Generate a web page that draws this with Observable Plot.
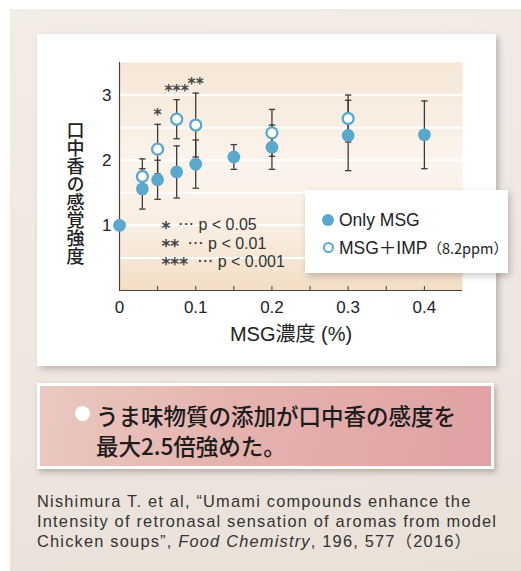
<!DOCTYPE html>
<html lang="ja">
<head>
<meta charset="utf-8">
<script src="https://cdn.jsdelivr.net/npm/d3@7"></script>
<script src="https://cdn.jsdelivr.net/npm/@observablehq/plot@0.6"></script>
<style>
  html, body { margin: 0; padding: 0; background: #ffffff; }
  body { width: 521px; height: 571px; position: relative; overflow: hidden;
         font-family: "Liberation Sans", "Noto Sans CJK JP", sans-serif; }
  .panel { position: absolute; left: 10px; top: 9px; right: 0; bottom: 0;
           background: linear-gradient(170deg, #f2ece7 0%, #eee7e0 60%, #e9e0d7 100%); }
  .card { position: absolute; left: 37px; top: 34px; width: 459px; height: 332px;
          background: #ffffff; box-shadow: 3px 3px 6px rgba(0,0,0,0.22); }
  .card svg { position: absolute; left: 0; top: 0; overflow: visible; }
  .legend { position: absolute; left: 305px; top: 190px; width: 203px; height: 83px;
            background: #ffffff; box-shadow: 2px 3px 7px rgba(0,0,0,0.22);
            color: #222; font-size: 17.5px; }
  .legend .row { position: absolute; left: 0; height: 27px; line-height: 27px; white-space: nowrap; }
  .legend .sw { position: absolute; left: 17px; top: 7.5px; width: 12px; height: 12px;
                border-radius: 50%; box-sizing: border-box; }
  .legend .txt { position: absolute; left: 34px; top: 0; }
  .legend .small { font-size: 14.5px; font-family: "Noto Sans CJK JP", sans-serif; }
  .message { position: absolute; left: 37px; top: 383px; width: 451px; height: 80px;
             border: 3px solid #ffffff; box-shadow: 2px 3px 6px rgba(0,0,0,0.25);
             background: linear-gradient(100deg, #eac8c1 0%, #e5b2ae 45%, #e0a1a4 100%); }
  .message .bullet { position: absolute; left: 35px; top: 20px; width: 15px; height: 15px;
                     border-radius: 50%; background: #ffffff; }
  .message .line { position: absolute; left: 56px; font-family: "Noto Sans CJK JP", sans-serif;
                   font-weight: 500; font-size: 22.5px; color: #1c1c1c; line-height: 30px;
                   white-space: nowrap; }
  .cite { position: absolute; left: 37px; top: 491px; font-size: 16.4px; line-height: 20px;
          letter-spacing: 1.2px; color: #333; white-space: nowrap; }
</style>
</head>
<body>
<div class="panel"></div>
<div class="card" id="card"></div>
<div class="legend" id="legend"></div>
<div class="message" id="message"></div>
<div class="cite" id="cite"></div>
<script>
// MSG concentration (%) and perceived retronasal aroma intensity (mean ± error)
const msgConc      = [0, 0.03, 0.05, 0.075, 0.1, 0.15, 0.2, 0.3, 0.4];
const onlyMsgMean  = [1.00, 1.56, 1.70, 1.82, 1.94, 2.05, 2.20, 2.38, 2.39];
const onlyMsgErr   = [0, 0.31, 0.30, 0.40, 0.37, 0.19, 0.34, 0.54, 0.52];

const impConc      = [0.03, 0.05, 0.075, 0.1, 0.2, 0.3];
const msgImpMean   = [1.75, 2.17, 2.63, 2.54, 2.42, 2.64];
const msgImpErr    = [0.27, 0.38, 0.30, 0.49, 0.36, 0.36];

// significance marks above the MSG+IMP bars
const sigConc   = [0.05, 0.075, 0.1];
const sigLabels = ["*", "***", "**"];

// p-value key
const keyStars = ["*", "**", "***"];
const keyText  = ["⋯ p < 0.05", "⋯ p < 0.01", "⋯ p < 0.001"];

const xTickValues  = [0, 0.1, 0.2, 0.3, 0.4];
const xTickLabels  = ["0", "0.1", "0.2", "0.3", "0.4"];
const xMinorTicks  = [0.05, 0.1, 0.15, 0.2, 0.25, 0.3, 0.35, 0.4];
const yTickValues  = [1, 2, 3];
const yGridValues  = [0.5, 1, 1.5, 2, 2.5, 3];

const xTitle = "MSG濃度 (%)";
const yTitle = "口中香の感覚強度";

const seriesNames = ["Only MSG", "MSG＋IMP"];
const impNote = "（8.2ppm）";

const messageLines = ["うま味物質の添加が口中香の感度を", "最大2.5倍強めた。"];

const blue = "#5ba8cf";
const barColor = "#3b3b3b";

const onlyMsg = msgConc.map((x, i) => ({x, y: onlyMsgMean[i], lo: onlyMsgMean[i] - onlyMsgErr[i], hi: onlyMsgMean[i] + onlyMsgErr[i], e: onlyMsgErr[i]}));
const msgImp  = impConc.map((x, i) => ({x, y: msgImpMean[i], lo: msgImpMean[i] - msgImpErr[i], hi: msgImpMean[i] + msgImpErr[i], e: msgImpErr[i]}));
const withErr = [...msgImp, ...onlyMsg].filter(d => d.e > 0);
const caps = withErr.flatMap(d => [{x: d.x, y: d.lo}, {x: d.x, y: d.hi}]);
const sig = sigConc.map((x, i) => ({x, y: msgImp.find(d => d.x === x).hi, label: sigLabels[i]}));

// short horizontal cap and short upward tick drawn as custom dot symbols
const capSymbol  = {draw(ctx) { ctx.moveTo(-3.2, 0); ctx.lineTo(3.2, 0); }};
const tickSymbol = {draw(ctx) { ctx.moveTo(0, 0); ctx.lineTo(0, -4.5); }};

const latin = "Liberation Sans, Noto Sans CJK JP, sans-serif";
const starColor = "#444";

const keyMarks = keyStars.flatMap((s, i) => [
  Plot.text([s], {x: 0.055, y: 1, dy: i * 18.3 + 3, text: d => d, textAnchor: "start", lineAnchor: "middle",
                  fontSize: 17, fontWeight: "bold", fontFamily: "DejaVu Sans", fill: starColor}),
  Plot.text([keyText[i]], {x: 0.055, y: 1, dy: i * 18.3, dx: s.length * 9.6 + 7, text: d => d,
                  textAnchor: "start", lineAnchor: "middle", fontSize: 16, fontFamily: latin, fill: "#333"})
]);

const chart = Plot.plot({
  width: 459,
  height: 332,
  marginLeft: 82,
  marginRight: 34,
  marginTop: 28,
  marginBottom: 76,
  x: {domain: [0, 0.45]},
  y: {domain: [0, 3.5]},
  style: {background: "transparent", fontFamily: latin, color: "#222"},
  marks: [
    Plot.frame({fill: "url(#plotBg)", stroke: null}),
    Plot.gridY(yGridValues, {stroke: "#ffffff", strokeOpacity: 1, strokeWidth: 2}),
    Plot.ruleX([0], {stroke: "#444", strokeWidth: 1.2}),
    Plot.ruleY([0], {stroke: "#444", strokeWidth: 1.2}),
    Plot.dot(xMinorTicks, {x: d => d, y: 0, symbol: tickSymbol, stroke: "#444", strokeWidth: 1, fill: "none"}),
    Plot.axisX(xTickValues, {tickSize: 0, tickPadding: 10, fontSize: 17, fill: "#222",
      tickFormat: d => xTickLabels[xTickValues.indexOf(d)], label: null}),
    Plot.axisY(yTickValues, {tickSize: 0, tickPadding: 8, fontSize: 17, fill: "#222",
      tickFormat: d => String(d), label: null}),
    // vertical (top-to-bottom) y-axis title
    Plot.text([yTitle], {frameAnchor: "left", textAnchor: "middle", dx: -44, dy: 11,
      text: d => d, fontSize: 18, fontWeight: 500, className: "y-title",
      fontFamily: "Noto Sans CJK JP, sans-serif", fill: "#222"}),
    Plot.text([xTitle], {frameAnchor: "bottom", dy: 50, text: d => d, fontSize: 20, fill: "#222"}),
    Plot.ruleX(withErr, {x: "x", y1: "lo", y2: "hi", stroke: barColor, strokeWidth: 1.3}),
    Plot.dot(caps, {x: "x", y: "y", symbol: capSymbol, stroke: barColor, strokeWidth: 1.3, fill: "none"}),
    Plot.dot(onlyMsg, {x: "x", y: "y", r: 6.4, fill: blue, stroke: "none"}),
    Plot.dot(msgImp, {x: "x", y: "y", r: 5.5, fill: "#ffffff", stroke: blue, strokeWidth: 2.3}),
    Plot.text(sig, {x: "x", y: "y", text: "label", lineAnchor: "bottom", dy: -4, fontSize: 15.5,
      fontWeight: "bold", fontFamily: "DejaVu Sans", fill: starColor}),
    ...keyMarks
  ]
});

// the vertical title needs no baseline shift
d3.select(chart).selectAll("g.y-title text").attr("dy", null)
  .style("writing-mode", "vertical-rl").style("text-orientation", "upright");

// soft peach background gradient for the plotting area
const defs = d3.select(chart).insert("defs", ":first-child");
const grad = defs.append("linearGradient").attr("id", "plotBg")
  .attr("x1", 0).attr("y1", 0).attr("x2", 0).attr("y2", 1);
grad.append("stop").attr("offset", "0%").attr("stop-color", "#f6e7d6");
grad.append("stop").attr("offset", "45%").attr("stop-color", "#fbf4ed");
grad.append("stop").attr("offset", "75%").attr("stop-color", "#f9ede0");
grad.append("stop").attr("offset", "100%").attr("stop-color", "#f3dec5");

document.getElementById("card").appendChild(chart);

// legend
const legend = document.getElementById("legend");
legend.innerHTML =
  `<div class="row" style="top:16.5px"><span class="sw" style="background:${blue}"></span><span class="txt">${seriesNames[0]}</span></div>` +
  `<div class="row" style="top:43.5px"><span class="sw" style="border:2.3px solid ${blue};background:#fff;width:11px;height:11px;left:17.5px;top:8px"></span><span class="txt">${seriesNames[1]}<span class="small">${impNote}</span></span></div>`;

// key finding
const msg = document.getElementById("message");
msg.innerHTML = `<span class="bullet"></span>` +
  messageLines.map((t, i) => `<div class="line" style="top:${14 + i * 30}px">${t}</div>`).join("");

// reference
document.getElementById("cite").innerHTML =
  "Nishimura T. et al, “Umami compounds enhance the<br>" +
  "Intensity of retronasal sensation of aromas from model<br>" +
  "Chicken soups”, <i>Food Chemistry</i>, 196, 577（2016）";
</script>
</body>
</html>
